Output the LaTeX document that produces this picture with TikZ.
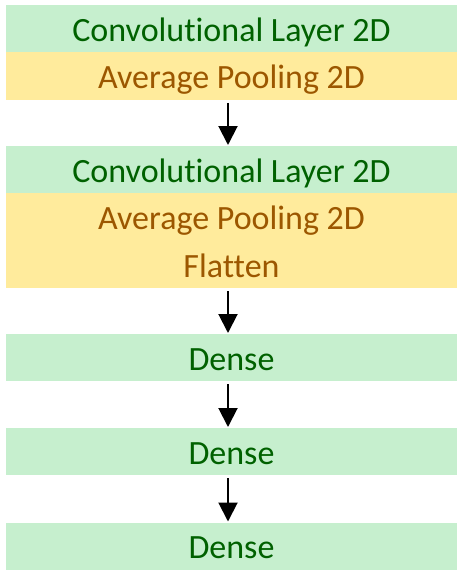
\documentclass[tikz,border=0pt]{standalone}
\usepackage{fontspec}
\setmainfont{Carlito}[Ligatures={NoCommon}]
\usetikzlibrary{arrows.meta}
\definecolor{goodfill}{HTML}{C6EFCE}
\definecolor{goodtext}{HTML}{006100}
\definecolor{neutfill}{HTML}{FFEB9C}
\definecolor{neuttext}{HTML}{9C5700}
\tikzset{
  layerbox/.style={rectangle, inner sep=0pt, minimum width=451pt, anchor=north,
    font=\fontsize{34}{48}\selectfont},
  greenbox/.style={layerbox, fill=goodfill, text=goodtext, minimum height=47pt,
    text height=25pt, text depth=0pt},
  yellowbox/.style={layerbox, fill=neutfill, text=neuttext, minimum height=47.5pt,
    text height=25pt, text depth=0pt},
  yellowtwo/.style={layerbox, fill=neutfill, text=neuttext, minimum height=95pt, align=center},
  flow/.style={line width=2pt, -{Triangle[length=19pt,width=19pt]}, shorten <=3pt, shorten >=1pt}
}
\begin{document}
\begin{tikzpicture}[x=1pt,y=-1pt]
\useasboundingbox (0,0) rectangle (467,581);
\node[greenbox] (c1) at (231.5,5) {Convolutional Layer 2D};
\node[yellowbox] (p1) at (231.5,52) {Average Pooling 2D};
\node[greenbox] (c2) at (231.5,146) {Convolutional Layer 2D};
\node[yellowtwo] (p2) at (231.5,193) {\rule{0pt}{25pt}Average Pooling 2D\\Flatten};
\node[greenbox] (d1) at (231.5,334) {Dense};
\node[greenbox] (d2) at (231.5,428) {Dense};
\node[greenbox] (d3) at (231.5,522.5) {Dense};
\draw[flow] ([xshift=-3.5pt]p1.south) -- ([xshift=-3.5pt]c2.north);
\draw[flow] ([xshift=-3.5pt]p2.south) -- ([xshift=-3.5pt]d1.north);
\draw[flow] ([xshift=-3.5pt]d1.south) -- ([xshift=-3.5pt]d2.north);
\draw[flow] ([xshift=-3.5pt]d2.south) -- ([xshift=-3.5pt]d3.north);
\end{tikzpicture}
\end{document}
